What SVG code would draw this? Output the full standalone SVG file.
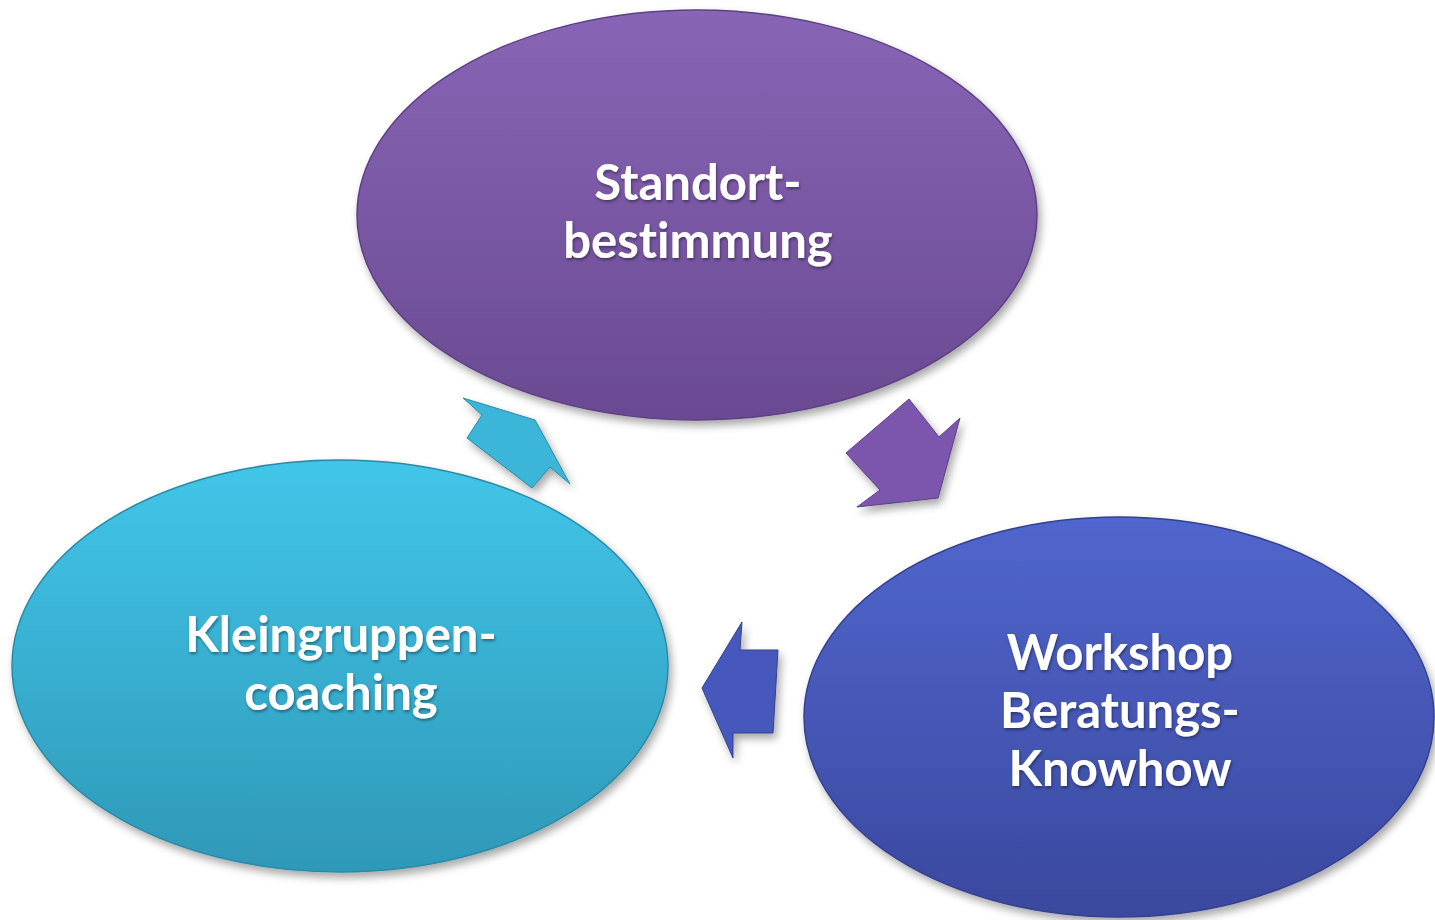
<svg xmlns="http://www.w3.org/2000/svg" width="1435" height="920" viewBox="0 0 1435 920">
<defs>
<linearGradient id="gP" x1="0" y1="0" x2="0" y2="1"><stop offset="0" stop-color="#8865b6"/><stop offset="1" stop-color="#6a4a92"/></linearGradient>
<linearGradient id="gC" x1="0" y1="0" x2="0" y2="1"><stop offset="0" stop-color="#41c6e9"/><stop offset="1" stop-color="#2f98b8"/></linearGradient>
<linearGradient id="gB" x1="0" y1="0" x2="0" y2="1"><stop offset="0" stop-color="#5166ce"/><stop offset="1" stop-color="#3a489e"/></linearGradient>
<filter id="sh" x="-20%" y="-20%" width="140%" height="140%"><feGaussianBlur in="SourceAlpha" stdDeviation="4"/><feOffset dx="3" dy="5"/><feComponentTransfer><feFuncA type="linear" slope="0.35"/></feComponentTransfer><feMerge><feMergeNode/><feMergeNode in="SourceGraphic"/></feMerge></filter>
<filter id="ts" x="-10%" y="-10%" width="120%" height="130%"><feGaussianBlur in="SourceAlpha" stdDeviation="1.5"/><feOffset dx="1" dy="2"/><feComponentTransfer><feFuncA type="linear" slope="0.4"/></feComponentTransfer><feMerge><feMergeNode/><feMergeNode in="SourceGraphic"/></feMerge></filter>
</defs>
<style>
.lbl{font-family:Lato,"Open Sans","Liberation Sans",sans-serif;font-weight:bold;font-size:49px;fill:#ffffff;text-anchor:middle;font-variant-ligatures:none;font-feature-settings:"liga" 0}
.node{filter:url(#sh)}
.conn polygon{filter:url(#sh)}
</style>
<rect width="1435" height="920" fill="#ffffff"/>
<g id="standort" class="node">
<ellipse cx="697" cy="215" rx="340" ry="205" fill="url(#gP)" stroke="#5d4083" stroke-width="1.5"/>
<g filter="url(#ts)"><text class="lbl" x="698" y="200">Standort-</text><text class="lbl" x="698" y="258">bestimmung</text></g>
</g>
<g id="kleingruppen" class="node">
<ellipse cx="340" cy="666" rx="328" ry="206" fill="url(#gC)" stroke="#2b8aa6" stroke-width="1.5"/>
<g filter="url(#ts)"><text class="lbl" x="341" y="652">Kleingruppen-</text><text class="lbl" x="341" y="710">coaching</text></g>
</g>
<g id="workshop" class="node">
<ellipse cx="1119" cy="717" rx="315" ry="200" fill="url(#gB)" stroke="#34418f" stroke-width="1.5"/>
<g filter="url(#ts)"><text class="lbl" x="1120" y="670">Workshop</text><text class="lbl" x="1120" y="728">Beratungs-</text><text class="lbl" x="1120" y="786">Knowhow</text></g>
</g>
<g id="connectors" class="conn">
<polygon points="909,399 939,437 960,418 938,498 857,507 880,490 846,453" fill="#7b56ac" stroke="#5d4083" stroke-width="1"/>
<polygon points="742,622 740,650 778,650 773,733 733,733 733,758 702,688" fill="#4659bd" stroke="#34418f" stroke-width="1"/>
<polygon points="535,420 570,484 550,467 532,488 467,438 482,415 463,398" fill="#3ab6d8" stroke="#2b8aa6" stroke-width="1"/>
</g>
</svg>
